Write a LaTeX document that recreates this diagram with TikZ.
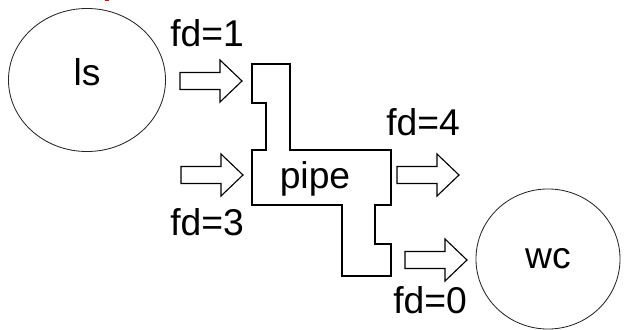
\documentclass[tikz,border=0pt]{standalone}
\usepackage{fontspec}
\setmainfont{Liberation Sans}
\usetikzlibrary{shapes.geometric}

\tikzset{
    lbl/.style    = {inner sep=0pt, font=\fontsize{26.5}{30}\selectfont},
    place/.style  = {ellipse, draw=black!85, line width=0.6pt, inner sep=0pt},
    outline/.style = {draw=black, line width=0.8pt},
    fatarrow/.pic = {
        \draw[outline] (0,-8.5) -- (40,-8.5) -- (40,-21) -- (62,0) -- (40,21)
            -- (40,8.5) -- (0,8.5) -- cycle;
    }
}

\begin{document}
\begin{tikzpicture}[x=0.025cm, y=-0.025cm]
    \useasboundingbox (0,0) rectangle (624,329);

    % tiny red mark cut off at the top edge
    \fill[red] (105,0) rectangle (109,0.8);

    % the two tanks
    \node[place, minimum width=3.925cm, minimum height=3.575cm] (ls) at (87,80) {};
    \node[lbl] (lstext) at (87,72) {ls};
    \node[place, minimum width=3.6cm, minimum height=3.5cm, lbl] (wc) at (548,259) {wc};

    % pipe outline
    \draw[outline] (252,64) -- (290,64) -- (290,150) -- (391,150) -- (391,205)
        -- (375,205) -- (375,244) -- (391,244) -- (391,276) -- (342,276)
        -- (342,205) -- (252,205) -- (252,150) -- (266,150) -- (266,103)
        -- (252,103) -- cycle;
    \node[lbl, anchor=base] (pipe) at (315,188) {pipe};

    % flow arrows
    \pic (in1)  at (180,81)  {fatarrow};
    \pic (in3)  at (181,175) {fatarrow};
    \pic (out4) at (397,175) {fatarrow};
    \pic (out0) at (405,260) {fatarrow};

    % arrow labels
    \node[lbl, anchor=base west] (fd1) at (170,46)  {fd=1};
    \node[lbl, anchor=base west] (fd3) at (170,235) {fd=3};
    \node[lbl, anchor=base west] (fd4) at (386,135) {fd=4};
    \node[lbl, anchor=base west] (fd0) at (393,313) {fd=0};
\end{tikzpicture}
\end{document}
